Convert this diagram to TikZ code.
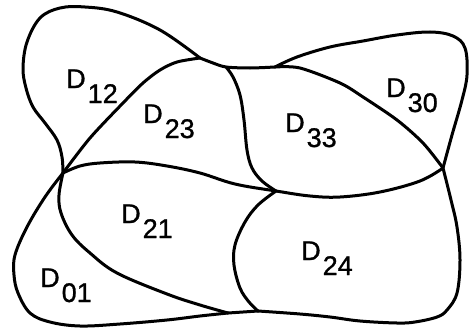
\documentclass[tikz,border=0pt]{standalone}
\usepackage{fontspec}
\setmainfont{Liberation Sans}[FakeBold=1]
\newcommand{\regionlab}[1]{D\kern2pt\raisebox{-15pt}{#1}}
\begin{document}
\begin{tikzpicture}[x=1pt,y=-1pt,
  edge/.style={line width=3pt,line join=round,line cap=round},
  reg/.style={inner sep=0pt,anchor=base west,font=\fontsize{27}{30}\selectfont}]
\useasboundingbox (0,0) rectangle (470,329);
% junctions
\coordinate (A) at (63,173);
\coordinate (B) at (200,58);
\coordinate (C) at (226,67);
\coordinate (E) at (275,67);
\coordinate (F) at (443,168);
\coordinate (G) at (276,191);
\coordinate (H) at (228,313);
\coordinate (I) at (258,311);
% D12 outer lobe
\draw[edge] plot[smooth,tension=0.6] coordinates {(A) (62,157) (57,140) (45,123) (33,107) (26,88) (23,68) (27,42) (40,18) (60,8) (85,7) (117,12) (160,30) (B)};
% D12 / D23
\draw[edge] plot[smooth,tension=0.5] coordinates {(A) (90,138) (123,103) (143,83) (160,70) (177,62) (B)};
% top segment
\draw[edge] plot[smooth,tension=0.5] coordinates {(B) (213,63) (C) (250,68) (E)};
% D23 / D33
\draw[edge] plot[smooth,tension=0.6] coordinates {(C) (233,77) (240,95) (244,120) (247,150) (252,168) (262,181) (G)};
% outer top right
\draw[edge] plot[smooth,tension=0.6] coordinates {(E) (297,57) (330,47) (363,41) (397,35) (430,32) (453,36) (465,48) (467,75) (462,100) (452,135) (F)};
% D33 / D30
\draw[edge] plot[smooth,tension=0.5] coordinates {(E) (300,68) (340,83) (363,97) (397,120) (423,143) (F)};
% middle line
\draw[edge] plot[smooth,tension=0.6] coordinates {(A) (80,166) (100,163) (135,162) (167,166) (200,173) (235,184) (G) (310,196) (340,197) (380,192) (420,181) (F)};
% D24 left
\draw[edge] plot[smooth,tension=0.6] coordinates {(G) (258,205) (245,222) (235,245) (234,265) (240,288) (249,302) (I)};
% outer bottom right
\draw[edge] plot[smooth,tension=0.6] coordinates {(F) (451,200) (457,227) (460,260) (457,293) (447,310) (437,317) (415,322) (397,323) (360,321) (330,317) (300,314) (I)};
\draw[edge] (I) -- (H);
% D21 / D01
\draw[edge] plot[smooth,tension=0.6] coordinates {(A) (59,195) (61,213) (72,235) (90,253) (117,273) (167,294) (200,305) (H)};
% outer D01
\draw[edge] plot[smooth,tension=0.6] coordinates {(A) (45,197) (27,227) (15,255) (14,275) (18,293) (30,313) (50,322) (80,326) (120,324) (167,320) (200,316) (H)};
% labels
\node[reg] (d12) at (66,88) {\regionlab{12}};
\node[reg] (d23) at (143,123) {\regionlab{23}};
\node[reg] (d33) at (285,132) {\regionlab{33}};
\node[reg] (d30) at (386,97) {\regionlab{30}};
\node[reg] (d21) at (121,223) {\regionlab{21}};
\node[reg] (d01) at (40,287) {\regionlab{01}};
\node[reg] (d24) at (301,260) {\regionlab{24}};
\end{tikzpicture}
\end{document}
